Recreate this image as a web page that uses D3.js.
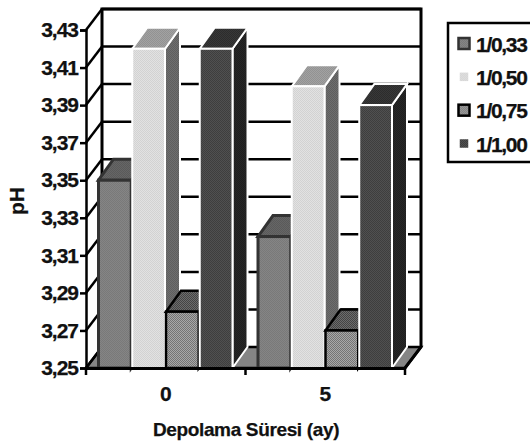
<!DOCTYPE html>
<html>
<head>
<meta charset="utf-8">
<script src="https://cdn.jsdelivr.net/npm/d3@7"></script>
<style>
html, body { margin: 0; padding: 0; background: #fff; overflow: hidden; }
text { font-family: "Liberation Sans", Arial, sans-serif; font-weight: bold; fill: #111; stroke: #111; stroke-width: 0.25px; }
</style>
</head>
<body>
<div class="canvas"></div>
<script>
const categories = ['0', '5'];
const series = ['1/0,33', '1/0,50', '1/0,75', '1/1,00'];
const values033 = [3.35, 3.32];
const values050 = [3.42, 3.40];
const values075 = [3.28, 3.27];
const values100 = [3.42, 3.39];
const yTicks = [3.25, 3.27, 3.29, 3.31, 3.33, 3.35, 3.37, 3.39, 3.41, 3.43];

const allValues = [values033, values050, values075, values100];

const [width, height] = [530, 447];
const plotLeft = 86, plotRight = 405, plotTop = 30, plotBottom = 368;
const dx = 16, dy = -21;   // depth of the 3d box

const svg = d3.select('.canvas')
    .append('svg')
    .attr('width', width)
    .attr('height', height)
    .style('display', 'block');

const x0 = d3.scaleBand().domain(categories).range([plotLeft, plotRight]);
const x1 = d3.scaleBand().domain(series).range([12.5, 147.5]);
const y = d3.scaleLinear().domain([3.25, 3.43]).range([plotBottom, plotTop]);

// dithered fills, the original is a low res print of excel patterns
const defs = svg.append('defs');
function dither(id, a, b, size) {
    const p = defs.append('pattern')
        .attr('id', id)
        .attr('width', size)
        .attr('height', size)
        .attr('patternUnits', 'userSpaceOnUse');
    p.append('rect').attr('width', size).attr('height', size).attr('fill', a);
    p.append('rect').attr('width', size / 2).attr('height', size / 2).attr('fill', b);
    p.append('rect').attr('x', size / 2).attr('y', size / 2)
        .attr('width', size / 2).attr('height', size / 2).attr('fill', b);
}
dither('f033', '#858585', '#797979', 2);
dither('t033', '#666666', '#5a5a5a', 2);
dither('s033', '#555555', '#4a4a4a', 2);
dither('f050', '#e2e2e2', '#d2d2d2', 2);
dither('t050', '#a2a2a2', '#929292', 2);
dither('s050', '#6e6e6e', '#5e5e5e', 2);
dither('f075', '#a8a8a8', '#747474', 2);
dither('t075', '#6c6c6c', '#444444', 2);
dither('s075', '#555555', '#333333', 2);
dither('f100', '#505050', '#3e3e3e', 2);
dither('t100', '#383838', '#2c2c2c', 2);
dither('s100', '#262626', '#1e1e1e', 2);

const barStyles = [
    { front: 'url(#f033)', top: 'url(#t033)', side: 'url(#s033)', stroke: '#333', sw: 3 },
    { front: 'url(#f050)', top: 'url(#t050)', side: 'url(#s050)', stroke: '#fff', sw: 2 },
    { front: 'url(#f075)', top: 'url(#t075)', side: 'url(#s075)', stroke: '#000', sw: 2.5 },
    { front: 'url(#f100)', top: 'url(#t100)', side: 'url(#s100)', stroke: '#fff', sw: 2 }
];

const poly = pts => 'M' + pts.map(p => p.join(',')).join('L') + 'Z';

// floor
svg.append('path')
    .attr('d', poly([[plotLeft, plotBottom], [plotLeft + dx, plotBottom + dy], [plotRight + dx, plotBottom + dy], [plotRight, plotBottom]]))
    .attr('fill', '#858585')
    .attr('stroke', '#000')
    .attr('stroke-width', 2.5);

// back wall gridlines and the diagonals on the left wall
const wall = svg.append('g').attr('fill', 'none').attr('stroke', '#000').attr('stroke-width', 2.5);
wall.selectAll('line.grid')
    .data(yTicks.slice(1))
    .enter()
    .append('line')
    .attr('class', 'grid')
    .attr('x1', plotLeft + dx)
    .attr('x2', plotRight + dx)
    .attr('y1', d => y(d) + dy)
    .attr('y2', d => y(d) + dy);
wall.selectAll('line.diag')
    .data(yTicks)
    .enter()
    .append('line')
    .attr('class', 'diag')
    .attr('x1', plotLeft)
    .attr('x2', plotLeft + dx)
    .attr('y1', d => y(d))
    .attr('y2', d => y(d) + dy);
wall.append('path')
    .attr('d', `M${plotLeft + dx},${plotBottom + dy}V${plotTop + dy}H${plotRight + dx}V${plotBottom + dy}L${plotRight},${plotBottom}`)
    .attr('stroke-width', 3);

// bars, left to right so each one covers the side of the previous
categories.forEach((cat, c) => {
    series.forEach((s, i) => {
        const st = barStyles[i];
        const xa = x0(cat) + x1(s);
        const xb = xa + x1.bandwidth() - 1;
        const yv = y(allValues[i][c]);
        const g = svg.append('g').attr('stroke', st.stroke).attr('stroke-width', st.sw);
        g.append('path')
            .attr('d', poly([[xb, yv], [xb + dx - 1, yv + dy], [xb + dx - 1, plotBottom + dy], [xb, plotBottom]]))
            .attr('fill', st.side);
        g.append('path')
            .attr('d', poly([[xa, yv], [xa + dx - 1, yv + dy], [xb + dx - 1, yv + dy], [xb, yv]]))
            .attr('fill', st.top);
        g.append('rect')
            .attr('x', xa)
            .attr('y', yv)
            .attr('width', xb - xa)
            .attr('height', plotBottom - yv)
            .attr('fill', st.front);
    });
});

// axes
const yAxis = d3.axisLeft(y)
    .tickValues(yTicks)
    .tickFormat(d => d.toFixed(2).replace('.', ','))
    .tickSize(6)
    .tickPadding(2);
const gy = svg.append('g')
    .attr('transform', `translate(${plotLeft},0)`)
    .call(yAxis);
gy.attr('font-family', null).attr('font-size', null);
gy.selectAll('text').attr('letter-spacing', -1).style('font-size', '21px');
gy.selectAll('line').attr('stroke', '#000').attr('stroke-width', 2.5);
gy.select('.domain').attr('stroke', '#000').attr('stroke-width', 2.5);

const xAxis = d3.axisBottom(x0).tickSize(0).tickPadding(18);
const gx = svg.append('g')
    .attr('transform', `translate(0,${plotBottom})`)
    .call(xAxis);
gx.attr('font-family', null).attr('font-size', null);
gx.select('.domain').attr('stroke', '#000').attr('stroke-width', 3);
gx.selectAll('text').style('font-size', '21px');
gx.selectAll('line.edge')
    .data([plotLeft, x0(categories[1]), plotRight])
    .enter()
    .append('line')
    .attr('class', 'edge')
    .attr('x1', d => d)
    .attr('x2', d => d)
    .attr('y1', 0)
    .attr('y2', 7)
    .attr('stroke', '#000')
    .attr('stroke-width', 2.5);

// titles
svg.append('text')
    .attr('x', 246)
    .attr('y', 436)
    .attr('text-anchor', 'middle')
    .attr('letter-spacing', -0.35)
    .style('font-size', '19px')
    .text('Depolama Süresi (ay)');
svg.append('text')
    .attr('transform', 'translate(24,201) rotate(-90)')
    .attr('text-anchor', 'middle')
    .style('font-size', '21px')
    .text('pH');

// legend
const legend = svg.append('g');
legend.append('rect')
    .attr('x', 448)
    .attr('y', 23)
    .attr('width', 90)
    .attr('height', 139)
    .attr('fill', '#fff')
    .attr('stroke', '#000')
    .attr('stroke-width', 2.5);
const legendY = d3.scalePoint().domain(series).range([44, 144]);
const item = legend.selectAll('g.item')
    .data(series)
    .enter()
    .append('g')
    .attr('class', 'item')
    .attr('transform', d => `translate(0,${legendY(d)})`);
item.append('rect')
    .attr('x', 458.5)
    .attr('y', -6)
    .attr('width', 11)
    .attr('height', 11)
    .attr('fill', (d, i) => barStyles[i].front)
    .attr('stroke', (d, i) => barStyles[i].stroke)
    .attr('stroke-width', 2.5);
item.append('text')
    .attr('x', 476)
    .attr('y', 7.5)
    .attr('letter-spacing', -1.3)
    .style('font-size', '21px')
    .text(d => d);
</script>
</body>
</html>
